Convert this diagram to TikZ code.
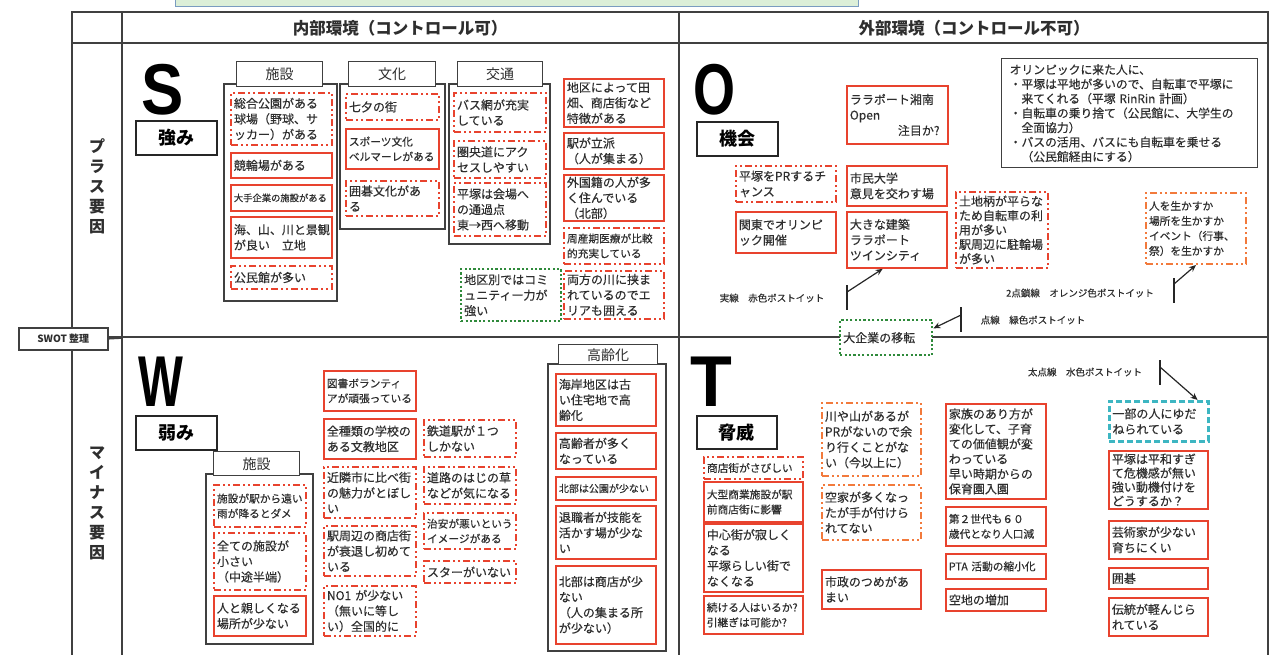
\documentclass[tikz,border=0pt]{standalone}
\usepackage{fontspec}
\usepackage{graphicx}
\setmainfont{Noto Sans CJK JP}
\newfontfamily\cardjp[FakeBold=0.35]{Noto Sans CJK JP}
\newfontfamily\bigfont{Liberation Sans}
\usetikzlibrary{arrows.meta,calc}
\definecolor{pred}{HTML}{E8432E}
\definecolor{porange}{HTML}{F27A3C}
\definecolor{pgreen}{HTML}{2F8A3B}
\definecolor{pcyan}{HTML}{3DB6C2}
\definecolor{ink}{HTML}{2E2E2E}
\definecolor{frame}{HTML}{404040}
\definecolor{bannerfill}{HTML}{DCEFD8}
\definecolor{bannerline}{HTML}{7A9CC0}
\newcommand\cardfont{\cardjp\fontsize{12}{15.5}\selectfont}
\newcommand\smallcard{\cardjp\fontsize{10.7}{15}\selectfont}
\newcommand\tinycard{\cardjp\fontsize{9.3}{12}\selectfont}
\newcommand\tabfont{\fontsize{14}{16}\selectfont}
\newcommand\kfont{\fontsize{18}{20}\selectfont\bfseries}
\newcommand\labfont{\cardjp\fontsize{9.5}{11}\selectfont}
\newcommand\card[7][]{%
  \pgfmathsetmacro\cw{#5-6}%
  \node[#2,#1,minimum width=#5pt,minimum height=#6pt,text width=\cw pt] (#3) at (#4) {#7};}
\tikzset{
 tbl/.style={draw=frame,line width=1.6pt},
 card/.style={draw,line width=1.8pt,anchor=north west,align=left,inner xsep=3pt,inner ysep=1pt,font=\cardfont,text=ink,fill=white},
 sol/.style={card,draw=pred},
 ddd/.style={card,draw=pred,line width=2pt,dash pattern=on 7pt off 3pt on 2pt off 3pt on 2pt off 3pt},
 oddd/.style={ddd,draw=porange},
 grn/.style={card,draw=pgreen,line width=2.4pt,dash pattern=on 2.2pt off 2.2pt},
 cyn/.style={card,draw=pcyan,line width=2.8pt,dash pattern=on 6pt off 3pt},
 gry/.style={card,draw=frame,line width=1.4pt},
 sm/.style={font=\smallcard},
 xs/.style={font=\tinycard},
 grp/.style={draw=frame,line width=2pt,fill=white,anchor=north west,inner sep=0pt},
 tab/.style={draw=frame,line width=1.4pt,fill=white,anchor=north west,inner sep=0pt,font=\tabfont,text=ink},
 kbox/.style={draw=black!85,line width=1.6pt,anchor=north west,inner sep=0pt,font=\kfont,fill=white},
 lab/.style={font=\labfont,text=ink,inner sep=0pt},
 ptr/.style={draw=black!85,line width=1.2pt,-{Stealth[length=7pt,width=6pt]}},
 bar/.style={draw=black!85,line width=1.5pt},
 big/.style={anchor=base west,inner sep=0pt,font=\bigfont\bfseries\fontsize{72}{72}\selectfont},
 hdr/.style={font=\fontsize{16.5}{19}\selectfont\bfseries,text=ink},
}
\begin{document}
\begin{tikzpicture}[x=1pt,y=-1pt]
\useasboundingbox (0,0) rectangle (1287,654);
% banner
\draw[fill=bannerfill,draw=bannerline,line width=1pt] (175,-5) rectangle (858,6);
% table
\draw[tbl] (72,12) rectangle (1268,660);
\draw[tbl] (72,43) -- (1268,43);
\draw[tbl] (72,337) -- (1268,337);
\draw[tbl] (122,12) -- (122,660);
\draw[tbl] (679,12) -- (679,660);
\node[hdr] (hin) at (400,28) {内部環境（コントロール可）};
\node[hdr] (hout) at (974,28) {外部環境（コントロール不可）};
\node[font=\fontsize{16}{20}\selectfont\bfseries,text=ink,align=center] (plus) at (97,186) {プ\\ラ\\ス\\要\\因};
\node[font=\fontsize{16}{20}\selectfont\bfseries,text=ink,align=center] (minus) at (97,503) {マ\\イ\\ナ\\ス\\要\\因};
\node[draw=frame,line width=1.5pt,fill=white,anchor=north west,minimum width=89pt,minimum height=22pt,inner sep=0pt,font=\fontsize{10}{12}\selectfont\bfseries,text=ink] (swot) at (18,327) {SWOT 整理};
\coordinate (colL) at (122,338);
\draw[tbl] (swot.east) -- (colL);

% ===== S =====
\node[big] (bigS) at (141,114) {\scalebox{0.88}[1]{S}};
\node[kbox,minimum width=81pt,minimum height=34pt] (kS) at (135,120) {強み};
\node[grp,minimum width=113pt,minimum height=217pt] (gS1) at (223,83) {};
\node[tab,minimum width=86pt,minimum height=25pt] (tS1) at (236,61) {施設};
\card{ddd}{s1}{230,92}{101}{52}{総合公園がある\\球場（野球、サ\\ッカー）がある}
\card{sol}{s2}{230,152}{101}{25}{競輪場がある}
\card[xs]{sol}{s3}{230,184}{101}{26}{大手企業の施設がある}
\card{sol}{s4}{230,216}{101}{41}{海、山、川と景観\\が良い　立地}
\card{ddd}{s5}{230,265}{101}{23}{公民館が多い}

\node[grp,minimum width=105pt,minimum height=145pt] (gS2) at (339,83) {};
\node[tab,minimum width=87pt,minimum height=25pt] (tS2) at (348,61) {文化};
\card{ddd}{c1}{345,93}{93}{26}{七夕の街}
\card[sm]{sol}{c2}{345,128}{93}{40}{スポーツ文化\\ベルマーレがある}
\card{ddd}{c3}{345,180}{93}{35}{囲碁文化があ\\る}

\node[grp,minimum width=101pt,minimum height=160pt] (gS3) at (448,83) {};
\node[tab,minimum width=85pt,minimum height=25pt] (tS3) at (457,61) {交通};
\card{ddd}{k1}{453,92}{92}{39}{バス網が充実\\している}
\card{ddd}{k2}{453,140}{92}{37}{圏央道にアク\\セスしやすい}
\card{ddd}{k3}{453,182}{92}{53}{平塚は会場へ\\の通過点\\東→西へ移動}

\card{grn}{g1}{460,268}{100}{52}{地区別ではコミ\\ュニティー力が\\強い}

\card{sol}{r1}{563,78}{100}{48}{地区によって田\\畑、商店街など\\特徴がある}
\card{sol}{r2}{563,132}{100}{36}{駅が立派\\（人が集まる）}
\card{sol}{r3}{563,174}{100}{46}{外国籍の人が多\\く住んでいる\\（北部）}
\card[sm]{ddd}{r4}{563,227}{100}{36}{周産期医療が比較\\的充実している}
\card{ddd}{r5}{563,270}{100}{48}{両方の川に挟ま\\れているのでエ\\リアも囲える}

% ===== O =====
\node[big] (bigO) at (693,114) {\scalebox{0.75}[1]{O}};
\node[kbox,minimum width=81pt,minimum height=34pt] (kO) at (696,121) {機会};
\card{sol}{o1}{846,85}{101}{58}{ララポート湘南\\Open\\\hspace*{48pt}注目か?}
\card{ddd}{o2}{735,165}{100}{36}{平塚をPRするチ\\ャンス}
\card{sol}{o3}{735,211}{100}{41}{関東でオリンピ\\ック開催}
\card{sol}{o4}{846,165}{100}{40}{市民大学\\意見を交わす場}
\card{sol}{o5}{846,211}{100}{56}{大きな建築\\ララポート\\ツインシティ}
\card[font=\cardjp\fontsize{12}{14.4}\selectfont]{ddd}{o6}{955,191}{92}{76}{土地柄が平らな\\ため自転車の利\\用が多い\\駅周辺に駐輪場\\が多い}
\card[font=\cardjp\fontsize{11.8}{14.5}\selectfont,inner xsep=8pt]{gry}{o7}{1001,58}{246}{109}{オリンピックに来た人に、\\・平塚は平地が多いので、自転車で平塚に\\　来てくれる（平塚 RinRin 計画）\\・自転車の乗り捨て（公民館に、大学生の\\　全面協力）\\・バスの活用、バスにも自転車を乗せる\\　（公民館経由にする）}
\card[sm]{oddd}{o8}{1145,192}{100}{71}{人を生かすか\\場所を生かすか\\イベント（行事、\\祭）を生かすか}
\card{grn}{g2}{839,319}{92}{35}{大企業の移転}
\node[lab] (lab1) at (772,298) {実線　赤色ポストイット};
\node[lab] (lab2) at (1080,293) {2点鎖線　オレンジ色ポストイット};
\node[lab] (lab3) at (1033,320) {点線　緑色ポストイット};
\node[lab] (lab4) at (1085,372) {太点線　水色ポストイット};
% pointers
\draw[bar] (847,285) -- (847,310);
\coordinate (p1) at (847,292);
\draw[ptr] (p1) -- ($(o5.south west)!0.36!(o5.south east)$);
\draw[bar] (961,307) -- (961,332);
\coordinate (p2) at (961,315);
\draw[ptr] (p2) -- ($(g2.north east)!0.25!(g2.south east)$);
\draw[bar] (1174,278) -- (1174,303);
\coordinate (p3) at (1174,284);
\draw[ptr] (p3) -- ($(o8.south west)!0.5!(o8.south east)$);

% ===== W =====
\node[big] (bigW) at (138,406) {\scalebox{0.66}[1]{W}};
\node[kbox,minimum width=81pt,minimum height=34pt] (kW) at (135,415) {弱み};
\node[grp,minimum width=107pt,minimum height=170pt] (gW1) at (205,473) {};
\node[tab,minimum width=86pt,minimum height=24pt] (tW1) at (213,451) {施設};
\card[sm]{ddd}{w1}{213,484}{92}{42}{施設が駅から遠い\\雨が降るとダメ}
\card{ddd}{w2}{213,532}{92}{57}{全ての施設が\\小さい\\（中途半端）}
\card{sol}{w3}{213,595}{92}{40}{人と親しくなる\\場所が少ない}
\card[sm]{sol}{wm1}{323,370}{92}{40}{図書ボランティ\\アが頑張っている}
\card{sol}{wm2}{323,418}{92}{40}{全種類の学校の\\ある文教地区}
\card{ddd}{wm3}{323,466}{92}{51}{近隣市に比べ街\\の魅力がとぼし\\い}
\card{ddd}{wm4}{323,525}{92}{50}{駅周辺の商店街\\が衰退し初めて\\いる}
\card{ddd}{wm5}{323,585}{92}{50}{NO1 が少ない\\（無いに等し\\い）全国的に}
\card{ddd}{wm6}{423,419}{92}{37}{鉄道駅が１つ\\しかない}
\card{ddd}{wm7}{423,466}{92}{37}{道路のはじの草\\などが気になる}
\card[sm]{ddd}{wm8}{423,512}{92}{36}{治安が悪いという\\イメージがある}
\card{ddd}{wm9}{423,560}{92}{22}{スターがいない}
\node[grp,minimum width=118pt,minimum height=287pt] (gW2) at (547,363) {};
\node[tab,minimum width=99pt,minimum height=20pt] (tW2) at (558,344) {高齢化};
\card{sol}{a1}{555,373}{100}{52}{海岸地区は古\\い住宅地で高\\齢化}
\card{sol}{a2}{555,432}{100}{36}{高齢者が多く\\なっている}
\card[font=\cardjp\fontsize{10}{12}\selectfont]{sol}{a3}{555,476}{100}{23}{北部は公園が少ない}
\card{sol}{a4}{555,505}{100}{53}{退職者が技能を\\活かす場が少な\\い}
\card{sol}{a5}{555,565}{100}{78}{北部は商店が少\\ない\\（人の集まる所\\が少ない）}

% ===== T =====
\node[big] (bigT) at (690,406) {\scalebox{0.95}[1]{T}};
\node[kbox,minimum width=80pt,minimum height=33pt] (kT) at (696,415) {脅威};
\card[sm]{ddd}{t1}{703,456}{99}{22}{商店街がさびしい}
\card[sm]{sol}{t2}{703,481}{99}{40}{大型商業施設が駅\\前商店街に影響}
\card{sol}{t3}{703,523}{99}{68}{中心街が寂しく\\なる\\平塚らしい街で\\なくなる}
\card[sm]{sol}{t4}{703,595}{99}{38}{続ける人はいるか?\\引継ぎは可能か?}
\card{oddd}{t5}{821,402}{99}{73}{川や山があるが\\PRがないので余\\り行くことがな\\い（今以上に）}
\card{oddd}{t6}{821,484}{99}{55}{空家が多くなっ\\たが手が付けら\\れてない}
\card{sol}{t7}{821,569}{99}{39}{市政のつめがあ\\まい}
\card[font=\cardjp\fontsize{12}{15}\selectfont]{sol}{t8}{945,403}{100}{95}{家族のあり方が\\変化して、子育\\ての価値観が変\\わっている\\早い時期からの\\保育園入園}
\card[sm]{sol}{t9}{945,506}{100}{39}{第２世代も６０\\歳代となり人口減}
\card[sm]{sol}{t10}{945,553}{100}{25}{PTA 活動の縮小化}
\card{sol}{t11}{945,588}{100}{22}{空地の増加}
\card{cyn}{t12}{1108,400}{99}{40}{一部の人にゆだ\\ねられている}
\card[font=\cardjp\fontsize{12}{14}\selectfont]{sol}{t13}{1108,450}{99}{58}{平塚は平和すぎ\\て危機感が無い\\強い動機付けを\\どうするか？}
\card{sol}{t14}{1108,520}{99}{38}{芸術家が少ない\\育ちにくい}
\card{sol}{t15}{1108,567}{99}{21}{囲碁}
\card{sol}{t16}{1108,597}{99}{38}{伝統が軽んじら\\れている}
\draw[bar] (1160,360) -- (1160,385);
\coordinate (p4) at (1160,367);
\draw[ptr] (p4) -- ($(t12.north west)!0.88!(t12.north east)$);
\end{tikzpicture}
\end{document}
